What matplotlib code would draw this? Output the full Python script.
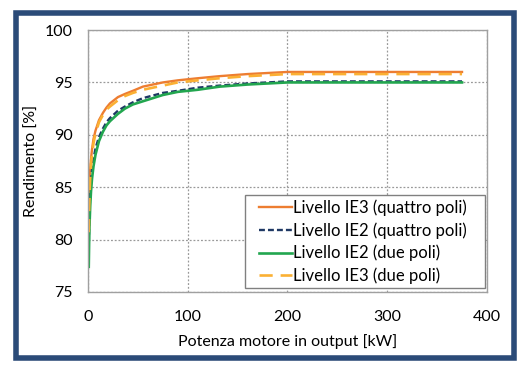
import matplotlib.pyplot as plt
from matplotlib.patches import Rectangle

# potenze nominali [kW]
potenza = [0.75, 1.1, 1.5, 2.2, 3, 4, 5.5, 7.5, 11, 15, 18.5, 22, 30, 37, 45,
           55, 75, 90, 110, 132, 160, 200, 250, 315, 355, 375]

# rendimenti [%]
ie3_4p = [82.5, 84.1, 85.3, 86.7, 87.7, 88.6, 89.6, 90.4, 91.4, 92.1, 92.6, 93.0,
          93.6, 93.9, 94.2, 94.6, 95.0, 95.2, 95.4, 95.6, 95.8, 96.0, 96.0, 96.0, 96.0, 96.0]
ie2_4p = [79.6, 81.4, 82.8, 84.3, 85.5, 86.6, 87.7, 88.7, 89.8, 90.6, 91.2, 91.6,
          92.3, 92.7, 93.1, 93.5, 94.0, 94.2, 94.5, 94.7, 94.9, 95.1, 95.1, 95.1, 95.1, 95.1]
ie2_2p = [77.4, 79.6, 81.3, 83.2, 84.6, 85.8, 87.0, 88.1, 89.4, 90.3, 90.9, 91.3,
          92.0, 92.5, 92.9, 93.2, 93.8, 94.1, 94.3, 94.6, 94.8, 95.0, 95.0, 95.0, 95.0, 95.0]
ie3_2p = [80.7, 82.7, 84.2, 85.9, 87.1, 88.1, 89.2, 90.1, 91.2, 91.9, 92.4, 92.7,
          93.3, 93.7, 94.0, 94.3, 94.7, 95.0, 95.2, 95.4, 95.6, 95.8, 95.8, 95.8, 95.8, 95.8]

etichette = ["Livello IE3 (quattro poli)", "Livello IE2 (quattro poli)",
             "Livello IE2 (due poli)", "Livello IE3 (due poli)"]

plt.rcParams['font.family'] = ['Lato', 'DejaVu Sans']

fig = plt.figure(figsize=(5.27, 3.71), dpi=100)
ax = fig.add_axes([0.167, 0.213, 0.757, 0.706])

ax.plot(potenza, ie3_4p, color='#ed7d31', lw=1.7, label=etichette[0])
ax.plot(potenza, ie2_4p, color='#1f3864', lw=1.7, ls=(0, (2.5, 1.3)), label=etichette[1])
ax.plot(potenza, ie2_2p, color='#22a64f', lw=1.9, label=etichette[2])
ax.plot(potenza, ie3_2p, color='#fbb033', lw=1.9, ls=(0, (5, 3)), label=etichette[3])

ax.set_xlim(0, 400)
ax.set_ylim(75, 100)
ax.set_xticks([0, 100, 200, 300, 400])
ax.set_yticks([75, 80, 85, 90, 95, 100])
ax.tick_params(labelsize=11.5, length=0)
ax.tick_params(axis='x', pad=13)
ax.tick_params(axis='y', pad=11)
ax.grid(True, color='#999999', ls=(0, (1.5, 1.5)), lw=0.9)
for s in ax.spines.values():
    s.set_color('#a0a0a0')
    s.set_linewidth(1)

ax.set_xlabel("Potenza motore in output [kW]", fontsize=11.5, labelpad=7)
ax.set_ylabel("Rendimento [%]", fontsize=11.5, labelpad=4)

# legenda senza cornice, la cornice la disegno dopo (piu' larga ai lati)
leg = ax.legend(loc='lower right', bbox_to_anchor=(0.950, 0.03), fontsize=12,
                handlelength=2.0, handletextpad=0.05, frameon=False,
                borderaxespad=0, labelspacing=0.37, borderpad=0)

fig.canvas.draw()
bb = leg.get_window_extent().transformed(fig.transFigure.inverted())
px = 1.0 / 527
py = 1.0 / 371
box = Rectangle((bb.x0 - 14 * px, bb.y0 - 4 * py),
                bb.width + 32 * px, bb.height + 8 * py,
                transform=fig.transFigure, facecolor='white',
                edgecolor='#808080', linewidth=1, zorder=4, clip_on=False)
ax.add_patch(box)

# cornice blu
fig.patches.append(Rectangle((0.030, 0.036), 0.946, 0.928, transform=fig.transFigure,
                             fill=False, edgecolor='#2b4b78', linewidth=4))

fig.savefig("out.png", dpi=100)
